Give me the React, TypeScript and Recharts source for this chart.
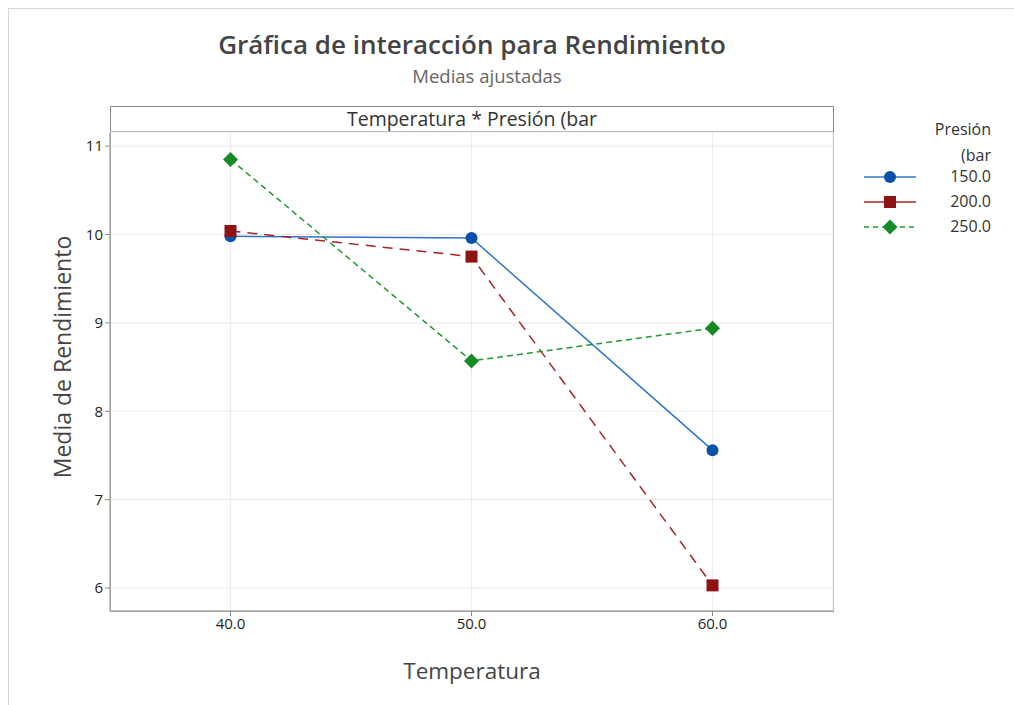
import React from "react";
import { LineChart, Line, XAxis, YAxis, CartesianGrid } from "recharts";

const temperatures = [40, 50, 60];
const p150 = [9.98, 9.96, 7.56];
const p200 = [10.04, 9.75, 6.03];
const p250 = [10.85, 8.57, 8.94];
const xTicks = [40, 50, 60];
const yTicks = [6, 7, 8, 9, 10, 11];
const seriesLabels = ["150.0", "200.0", "250.0"];

const data = temperatures.map((t, i) => ({ temp: t, p150: p150[i], p200: p200[i], p250: p250[i] }));

const FONT = "'Open Sans', 'Noto Sans', sans-serif";

const CircleDot = (props: any) => {
  const { cx, cy } = props;
  if (cx == null || cy == null) return null;
  return <circle cx={cx} cy={cy} r={6} fill="#0a52a8" stroke="none" />;
};
const SquareDot = (props: any) => {
  const { cx, cy } = props;
  if (cx == null || cy == null) return null;
  return <rect x={cx - 6} y={cy - 6} width={12} height={12} fill="#8e1414" stroke="none" />;
};
const DiamondDot = (props: any) => {
  const { cx, cy } = props;
  if (cx == null || cy == null) return null;
  const s = 7.5;
  return <path d={`M${cx},${cy - s}L${cx + s},${cy}L${cx},${cy + s}L${cx - s},${cy}Z`} fill="#168a24" stroke="none" />;
};

const LegendRow = ({ label, color, dash, marker, top }: any) => (
  <div style={{ position: "absolute", left: 862, top, width: 129, height: 24 }}>
    <svg width={56} height={22} style={{ position: "absolute", left: 0, top: 1 }}>
      <line x1={2} y1={11} x2={54} y2={11} stroke={color} strokeWidth={1.6} strokeDasharray={dash} />
      {marker}
    </svg>
    <div style={{ position: "absolute", right: 0, top: 0, fontSize: 16, color: "#333", fontFamily: FONT }}>{label}</div>
  </div>
);

export default function App() {
  return (
    <div style={{ position: "absolute", left: 0, top: 0, width: 1014, height: 705, background: "#fff", fontFamily: FONT, overflow: "hidden" }}>
      <div style={{ position: "absolute", left: 8, top: 8, width: 1010, height: 700, borderTop: "1px solid #d6d6d6", borderLeft: "1px solid #d6d6d6" }} />
      <div style={{ position: "absolute", left: 0, width: 944, top: 26, textAlign: "center", fontSize: 26, fontWeight: 600, color: "#444" }}>
        Gráfica de interacción para Rendimiento
      </div>
      <div style={{ position: "absolute", left: 0, width: 974, top: 63, textAlign: "center", fontSize: 18.5, color: "#666" }}>
        Medias ajustadas
      </div>
      <div style={{ position: "absolute", left: 110, top: 106, width: 722, height: 504, border: "1px solid #8a8a8a" }} />
      <div style={{ position: "absolute", left: 110, top: 131, width: 724, height: 0, borderTop: "1.5px solid #8a8a8a" }} />
      <div style={{ position: "absolute", left: 110, top: 105, width: 724, textAlign: "center", fontSize: 19.5, color: "#333" }}>
        Temperatura * Presión (bar
      </div>
      <LineChart width={1014} height={705} data={data} margin={{ top: 132, right: 181, bottom: 64, left: 50 }} style={{ position: "absolute", left: 0, top: 0 }}>
        <CartesianGrid stroke="#ececec" strokeWidth={1.2} />
        <XAxis
          dataKey="temp"
          type="number"
          domain={[35, 65]}
          ticks={xTicks}
          tickFormatter={(v: number) => v.toFixed(1)}
          height={30}
          axisLine={{ stroke: "#8a8a8a" }}
          tickLine={{ stroke: "#8a8a8a" }}
          tickSize={5}
          tick={{ fill: "#1e1e1e", fontSize: 15, fontFamily: FONT, fontWeight: 500 }}
        />
        <YAxis
          type="number"
          domain={[5.74, 11.16]}
          ticks={yTicks}
          width={60}
          allowDataOverflow
          axisLine={{ stroke: "#8a8a8a" }}
          tickLine={{ stroke: "#8a8a8a" }}
          tickSize={5}
          tick={{ fill: "#1e1e1e", fontSize: 15, fontFamily: FONT, fontWeight: 500 }}
        />
        <Line dataKey="p150" stroke="#2f74c8" strokeWidth={1.5} dot={<CircleDot />} isAnimationActive={false} />
        <Line dataKey="p200" stroke="#a82424" strokeWidth={1.5} strokeDasharray="10 7" dot={<SquareDot />} isAnimationActive={false} />
        <Line dataKey="p250" stroke="#1f9a2e" strokeWidth={1.5} strokeDasharray="6 4" dot={<DiamondDot />} isAnimationActive={false} />
      </LineChart>
      <div style={{ position: "absolute", left: 62, top: 357, transform: "translate(-50%, -50%) rotate(-90deg)", whiteSpace: "nowrap", fontSize: 23, color: "#444" }}>
        Media de Rendimiento
      </div>
      <div style={{ position: "absolute", left: 110, width: 724, top: 655, textAlign: "center", fontSize: 22.5, color: "#444" }}>
        Temperatura
      </div>
      <div style={{ position: "absolute", left: 862, width: 129, top: 116, textAlign: "right", fontSize: 16, color: "#333", lineHeight: "26px" }}>
        Presión<br />(bar
      </div>
      <LegendRow label={seriesLabels[0]} color="#2f74c8" top={165} marker={<circle cx={28} cy={11} r={6} fill="#0a52a8" />} />
      <LegendRow label={seriesLabels[1]} color="#a82424" top={190} marker={<rect x={22} y={5} width={12} height={12} fill="#8e1414" />} />
      <LegendRow label={seriesLabels[2]} color="#1f9a2e" dash="5 4" top={215} marker={<path d="M28,3.5L35.5,11L28,18.5L20.5,11Z" fill="#168a24" />} />
    </div>
  );
}
